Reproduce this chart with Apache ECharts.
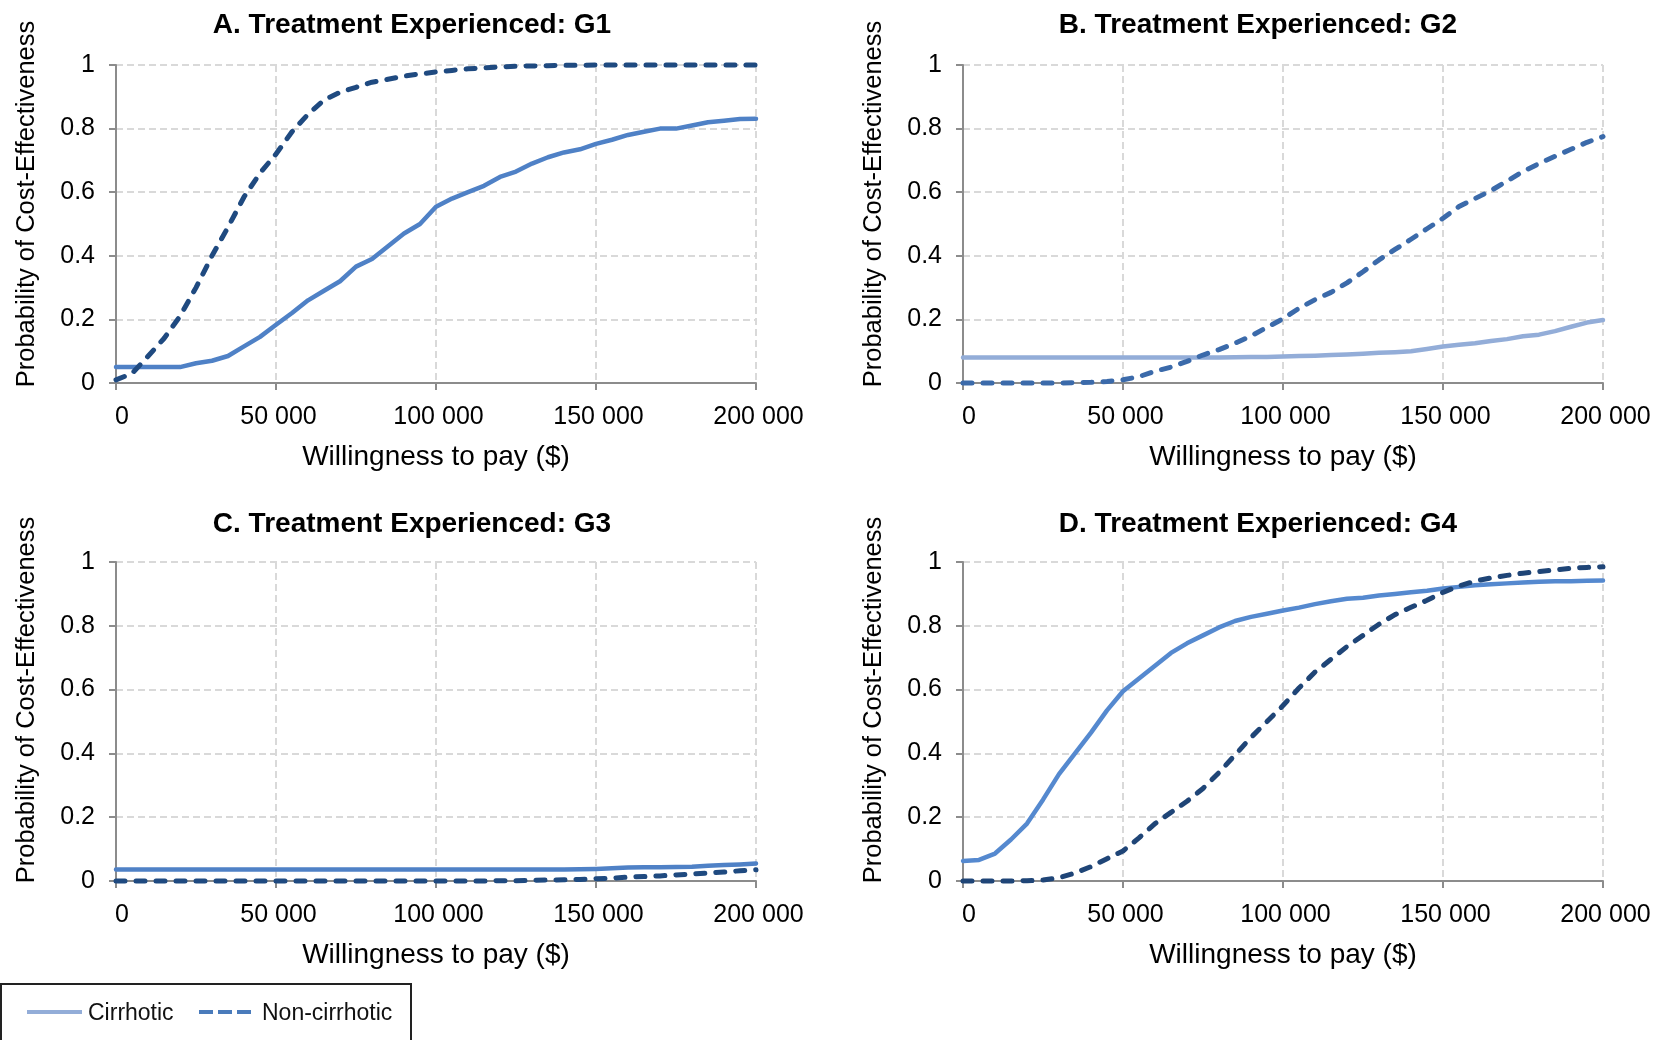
<!DOCTYPE html>
<html>
<head>
<meta charset="utf-8">
<script src="https://cdn.jsdelivr.net/npm/echarts@6/dist/echarts.min.js"></script>
<style>
html,body{margin:0;padding:0;background:#fff;}
#chart{width:1657px;height:1040px;}
</style>
</head>
<body>
<div id="chart"></div>
<script>
// Willingness to pay ($)
const xValues = [0, 5000, 10000, 15000, 20000, 25000, 30000, 35000, 40000, 45000,
  50000, 55000, 60000, 65000, 70000, 75000, 80000, 85000, 90000, 95000,
  100000, 105000, 110000, 115000, 120000, 125000, 130000, 135000, 140000, 145000,
  150000, 155000, 160000, 165000, 170000, 175000, 180000, 185000, 190000, 195000, 200000];

const xTicks = ['0', '50 000', '100 000', '150 000', '200 000'];
const yTicks = ['0', '0.2', '0.4', '0.6', '0.8', '1'];

const panelTitles = ['A. Treatment Experienced: G1', 'B. Treatment Experienced: G2',
  'C. Treatment Experienced: G3', 'D. Treatment Experienced: G4'];
const seriesNames = ['Cirrhotic', 'Non-cirrhotic'];

// Panel A (G1)
const aCirrhotic = [0.05, 0.05, 0.05, 0.05, 0.05, 0.062, 0.07, 0.085, 0.115, 0.145,
  0.183, 0.22, 0.26, 0.29, 0.32, 0.366, 0.39, 0.43, 0.47, 0.50,
  0.554, 0.58, 0.60, 0.62, 0.648, 0.665, 0.69, 0.71, 0.725, 0.735,
  0.752, 0.765, 0.78, 0.79, 0.80, 0.80, 0.81, 0.82, 0.825, 0.83, 0.831];
const aNonCirrhotic = [0.01, 0.03, 0.084, 0.14, 0.21, 0.30, 0.40, 0.49, 0.585, 0.66,
  0.72, 0.79, 0.845, 0.89, 0.914, 0.93, 0.946, 0.955, 0.965, 0.972,
  0.978, 0.983, 0.988, 0.991, 0.994, 0.996, 0.997, 0.998, 0.999, 0.999,
  1.0, 1.0, 1.0, 1.0, 1.0, 1.0, 1.0, 1.0, 1.0, 1.0, 1.0];

// Panel B (G2)
const bCirrhotic = [0.08, 0.08, 0.08, 0.08, 0.08, 0.08, 0.08, 0.08, 0.08, 0.08,
  0.08, 0.08, 0.08, 0.08, 0.08, 0.08, 0.08, 0.081, 0.082, 0.082,
  0.083, 0.085, 0.086, 0.088, 0.09, 0.092, 0.095, 0.097, 0.10, 0.107,
  0.115, 0.12, 0.125, 0.132, 0.138, 0.147, 0.152, 0.163, 0.177, 0.19, 0.198];
const bNonCirrhotic = [0, 0, 0, 0, 0, 0, 0, 0.001, 0.002, 0.005,
  0.01, 0.02, 0.037, 0.05, 0.068, 0.088, 0.105, 0.125, 0.148, 0.175,
  0.202, 0.235, 0.262, 0.285, 0.315, 0.35, 0.387, 0.42, 0.452, 0.485,
  0.518, 0.555, 0.58, 0.605, 0.635, 0.665, 0.69, 0.713, 0.735, 0.757, 0.775];

// Panel C (G3)
const cCirrhotic = [0.036, 0.036, 0.036, 0.036, 0.036, 0.036, 0.036, 0.036, 0.036, 0.036,
  0.036, 0.036, 0.036, 0.036, 0.036, 0.036, 0.036, 0.036, 0.036, 0.036,
  0.036, 0.036, 0.036, 0.036, 0.036, 0.036, 0.036, 0.036, 0.036, 0.037,
  0.038, 0.04, 0.042, 0.043, 0.043, 0.044, 0.045, 0.048, 0.05, 0.052, 0.055];
const cNonCirrhotic = [0, 0, 0, 0, 0, 0, 0, 0, 0, 0,
  0, 0, 0, 0, 0, 0, 0, 0, 0, 0,
  0, 0, 0, 0, 0.001, 0.001, 0.002, 0.003, 0.004, 0.005,
  0.007, 0.009, 0.012, 0.014, 0.016, 0.019, 0.022, 0.025, 0.028, 0.032, 0.035];

// Panel D (G4)
const dCirrhotic = [0.063, 0.066, 0.086, 0.13, 0.18, 0.255, 0.335, 0.40, 0.465, 0.535,
  0.595, 0.635, 0.675, 0.715, 0.745, 0.77, 0.795, 0.815, 0.828, 0.838,
  0.848, 0.857, 0.868, 0.877, 0.885, 0.888, 0.895, 0.90, 0.905, 0.91,
  0.917, 0.922, 0.927, 0.93, 0.933, 0.936, 0.938, 0.94, 0.94, 0.941, 0.942];
const dNonCirrhotic = [0, 0, 0, 0, 0.001, 0.003, 0.01, 0.025, 0.045, 0.07,
  0.094, 0.135, 0.18, 0.215, 0.25, 0.29, 0.34, 0.395, 0.45, 0.50,
  0.55, 0.605, 0.655, 0.695, 0.735, 0.77, 0.805, 0.835, 0.858, 0.88,
  0.905, 0.925, 0.94, 0.95, 0.958, 0.965, 0.97, 0.975, 0.98, 0.983, 0.985];

const panelData = [
  [aCirrhotic, aNonCirrhotic],
  [bCirrhotic, bNonCirrhotic],
  [cCirrhotic, cNonCirrhotic],
  [dCirrhotic, dNonCirrhotic]
];

const solidColors = ['#4f81c6', '#93add8', '#4f81c6', '#5589cf'];
const dashColors = ['#1f4a80', '#3b6aaa', '#1f4a80', '#1f4577'];

const FONT = '"Liberation Sans", Arial, Helvetica, sans-serif';
const grids = [
  {left: 116, top: 65, width: 640, height: 318},
  {left: 963, top: 65, width: 640, height: 318},
  {left: 116, top: 562, width: 640, height: 319},
  {left: 963, top: 562, width: 640, height: 319}
];
const titlePos = [[412, 25], [1258, 25], [412, 524], [1258, 524]];
const yNamePos = [[27, 204], [874, 204], [27, 700], [874, 700]];

const xAxes = [], yAxes = [], series = [], graphics = [];
grids.forEach((g, i) => {
  xAxes.push({
    type: 'value', gridIndex: i, min: 0, max: 200000, interval: 50000,
    name: 'Willingness to pay ($)', nameLocation: 'middle', nameGap: 60,
    nameTextStyle: {fontFamily: FONT, fontSize: 28, color: '#000'},
    axisLine: {show: true, onZero: false, lineStyle: {color: '#8c8c8c', width: 2}},
    axisTick: {show: true, length: 7, lineStyle: {color: '#8c8c8c', width: 2}},
    axisLabel: {fontFamily: FONT, fontSize: 25, color: '#000', margin: 22,
      padding: [0, 0, 0, 5],
      formatter: v => v === 0 ? '{z|' + xTicks[0] + '}' : xTicks[Math.round(v / 50000)],
      rich: {z: {fontFamily: FONT, fontSize: 25, color: '#000', padding: [0, 0, 0, 7]}}},
    splitLine: {show: true, lineStyle: {color: '#d9d9d9', width: 2, type: [7, 4]}}
  });
  yAxes.push({
    type: 'value', gridIndex: i, min: 0, max: 1, interval: 0.2,
    axisLine: {show: true, lineStyle: {color: '#8c8c8c', width: 2}},
    axisTick: {show: true, length: 7, lineStyle: {color: '#8c8c8c', width: 2}},
    axisLabel: {fontFamily: FONT, fontSize: 25, color: '#000', margin: 21,
      formatter: v => yTicks[Math.round(v / 0.2)]},
    splitLine: {show: true, lineStyle: {color: '#d9d9d9', width: 2, type: [7, 4]}}
  });
  const [cir, non] = panelData[i];
  series.push({
    type: 'line', name: seriesNames[0], xAxisIndex: i, yAxisIndex: i,
    data: xValues.map((x, k) => [x, cir[k]]),
    showSymbol: false, symbol: 'none', smooth: false, clip: false,
    lineStyle: {color: solidColors[i], width: 4.5, cap: 'round', join: 'round'},
    z: 3
  });
  series.push({
    type: 'line', name: seriesNames[1], xAxisIndex: i, yAxisIndex: i,
    data: xValues.map((x, k) => [x, non[k]]),
    showSymbol: false, symbol: 'none', smooth: false, clip: false,
    lineStyle: {color: dashColors[i], width: 5, type: [9, 11], cap: 'round', join: 'round'},
    z: 4
  });
  graphics.push({
    type: 'text', x: titlePos[i][0], y: titlePos[i][1],
    style: {text: panelTitles[i], fontFamily: FONT, fontSize: 28, fontWeight: 'bold',
      fill: '#000', textAlign: 'center', textVerticalAlign: 'middle'}
  });
  graphics.push({
    type: 'text', x: yNamePos[i][0], y: yNamePos[i][1], rotation: Math.PI / 2,
    style: {text: 'Probability of Cost-Effectiveness', fontFamily: FONT, fontSize: 25.5,
      fill: '#000', textAlign: 'center', textVerticalAlign: 'middle'}
  });
});

// Legend box
graphics.push({type: 'rect', shape: {x: 1, y: 984, width: 410, height: 80},
  style: {fill: '#fff', stroke: '#222', lineWidth: 2}});
graphics.push({type: 'line', shape: {x1: 27, y1: 1012, x2: 82, y2: 1012},
  style: {stroke: '#93add8', lineWidth: 4}});
graphics.push({type: 'text', x: 88, y: 1014,
  style: {text: seriesNames[0], fontFamily: FONT, fontSize: 23, fill: '#111',
    textAlign: 'left', textVerticalAlign: 'middle'}});
graphics.push({type: 'line', shape: {x1: 199, y1: 1012, x2: 253, y2: 1012},
  style: {stroke: '#4a7bbb', lineWidth: 4, lineDash: [14, 5]}});
graphics.push({type: 'text', x: 262, y: 1014,
  style: {text: seriesNames[1], fontFamily: FONT, fontSize: 23, fill: '#111',
    textAlign: 'left', textVerticalAlign: 'middle'}});

const chart = echarts.init(document.getElementById('chart'), null, {renderer: 'canvas'});
chart.setOption({
  animation: false,
  backgroundColor: '#fff',
  grid: grids,
  xAxis: xAxes,
  yAxis: yAxes,
  series: series,
  graphic: graphics
});
</script>
</body>
</html>
